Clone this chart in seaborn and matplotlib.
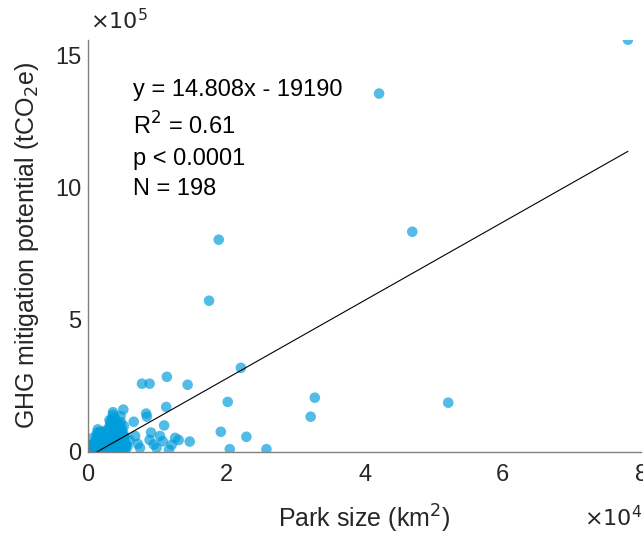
import numpy as np
import pandas as pd
import matplotlib
matplotlib.use("Agg")
import matplotlib.pyplot as plt
import seaborn as sns
from matplotlib.ticker import FuncFormatter

# park size (km2) and GHG mitigation potential (tCO2e)
out_x = [78100, 42100, 46900, 18900, 17500, 52100, 32800, 32200, 22100, 20200,
         14400, 11400, 7800, 8900, 19200, 20500, 22900, 25800, 5100, 3600,
         8400, 11300, 6600, 11000, 9100, 10400, 12600, 14700, 13100, 12100,
         8900, 7500, 9900, 6000, 700, 8500, 9500, 10800, 6800, 7200, 11700, 5700]
out_y = [1560000, 1356000, 833000, 803000, 572000, 186000, 205000, 133000, 318000, 189000,
         254000, 284000, 258000, 258000, 76000, 10000, 57000, 10000, 160000, 150000,
         145000, 170000, 114000, 100000, 73000, 60000, 53000, 39000, 45000, 27000,
         45000, 15000, 15000, 45000, 53000, 133000, 28000, 40000, 60000, 30000, 8000, 20000]

small_x = [50, 80, 120, 150, 200, 230, 260, 300, 340, 380, 410, 450, 480, 520, 560, 600, 640,
           680, 720, 760, 800, 830, 870, 900, 940, 980, 60, 110, 170, 250, 320, 390, 470, 540,
           610, 700, 780, 850, 920, 990, 140, 290, 430, 580, 730, 880, 210, 360, 660, 960]
small_y = [1000, 3000, 500, 6000, 2000, 9000, 4000, 12000, 1500, 7000, 15000, 3500, 10000,
           20000, 5000, 14000, 25000, 8000, 18000, 2500, 22000, 11000, 28000, 6500, 16000,
           30000, 800, 4500, 13000, 19000, 2200, 24000, 9500, 5500, 27000, 12500, 17000, 3800,
           21000, 8500, 26000, 14500, 600, 23000, 7500, 29000, 10500, 1800, 20500, 4200]

mid_x = [1020, 1080, 1150, 1210, 1270, 1330, 1390, 1450, 1510, 1570, 1630, 1690, 1750, 1810,
         1870, 1930, 1990, 2050, 2110, 2170, 2230, 2290, 2350, 2410, 2470, 2530, 2590, 2650,
         2710, 2770, 2830, 2890, 2950, 1100, 1300, 1500, 1700, 1900, 2100, 2300, 2500, 2700,
         2900, 1250, 1650, 2050, 2450, 2850, 1400, 2600]
mid_y = [35000, 12000, 48000, 5000, 60000, 22000, 40000, 8000, 55000, 30000, 70000, 15000,
         45000, 3000, 65000, 25000, 50000, 10000, 75000, 35000, 18000, 62000, 42000, 6000,
         80000, 28000, 52000, 14000, 68000, 38000, 20000, 58000, 9000, 2000, 72000, 33000,
         16000, 44000, 27000, 54000, 4000, 66000, 47000, 24000, 76000, 36000, 11000, 61000,
         85000, 30000]

big_x = [3020, 3080, 3140, 3200, 3260, 3320, 3380, 3440, 3500, 3560, 3620, 3680, 3740, 3800,
         3860, 3920, 3980, 4040, 4100, 4160, 4220, 4280, 4340, 4400, 4460, 4520, 4580, 4640,
         4700, 4760, 4820, 4880, 4940, 5000, 5060, 5120, 5180, 5240, 5300, 5360, 3100, 3350,
         3600, 3850, 4100, 4350, 4600, 4850, 5100, 5400, 3250, 3750, 4250, 4750, 5250, 5550]
big_y = [20000, 95000, 45000, 110000, 5000, 70000, 30000, 125000, 55000, 85000, 15000, 100000,
         40000, 65000, 130000, 25000, 80000, 50000, 10000, 115000, 60000, 35000, 90000, 3000,
         75000, 105000, 20000, 48000, 135000, 62000, 8000, 88000, 42000, 27000, 72000, 12000,
         98000, 38000, 58000, 18000, 120000, 52000, 140000, 32000, 102000, 68000, 22000, 82000,
         46000, 6000, 92000, 78000, 36000, 112000, 54000, 26000]

slope = 14.808
intercept = -19190

df = pd.DataFrame({"park": small_x + mid_x + big_x + out_x,
                   "ghg": small_y + mid_y + big_y + out_y})

sns.set_style("white")
plt.rcParams['font.family'] = ['Liberation Sans', 'DejaVu Sans']

fig = plt.figure(figsize=(6.43, 5.36), dpi=100)
ax = fig.add_axes([0.137, 0.157, 0.86, 0.769])

sns.scatterplot(data=df, x="park", y="ghg", ax=ax, s=58, color="#009ddb",
                alpha=0.68, edgecolor="none", linewidth=0)

xl = np.array([0, df.park.max()])
ax.plot(xl, slope * xl + intercept, color="black", lw=0.8)

ax.set_xlim(0, 80000)
ax.set_ylim(0, 1.56e6)
ax.set_xticks([0, 20000, 40000, 60000, 80000])
ax.set_yticks([0, 500000, 1000000, 1500000])
ax.xaxis.set_major_formatter(FuncFormatter(lambda v, p: f"{v/1e4:g}"))
ax.yaxis.set_major_formatter(FuncFormatter(lambda v, p: f"{v/1e5:g}"))

sns.despine(ax=ax)
for sp in ["left", "bottom"]:
    ax.spines[sp].set_color("#808080")
    ax.spines[sp].set_linewidth(1.0)
ax.tick_params(direction="in", length=5, width=0.8, color="#808080",
               labelsize=17, labelcolor="#262626")
ax.tick_params(axis="x", pad=9)
ax.tick_params(axis="y", pad=5)

ax.set_xlabel("Park size (km$^2$)", fontsize=18, color="#262626", labelpad=12)
ax.set_ylabel("GHG mitigation potential (tCO$_2$e)", fontsize=18, color="#262626", labelpad=10)

fig.text(0.14, 0.96, r"$\times10^5$", fontsize=16, color="#262626", va="center", ha="left")
fig.text(0.908, 0.033, r"$\times10^4$", fontsize=16, color="#262626", va="center", ha="left")

txt = "y = 14.808x - 19190\nR$^2$ = 0.61\np < 0.0001\nN = 198"
ax.text(0.082, 0.905, txt, transform=ax.transAxes, fontsize=17, color="black",
        va="top", ha="left", linespacing=1.5)

plt.savefig("out.png", dpi=100)
